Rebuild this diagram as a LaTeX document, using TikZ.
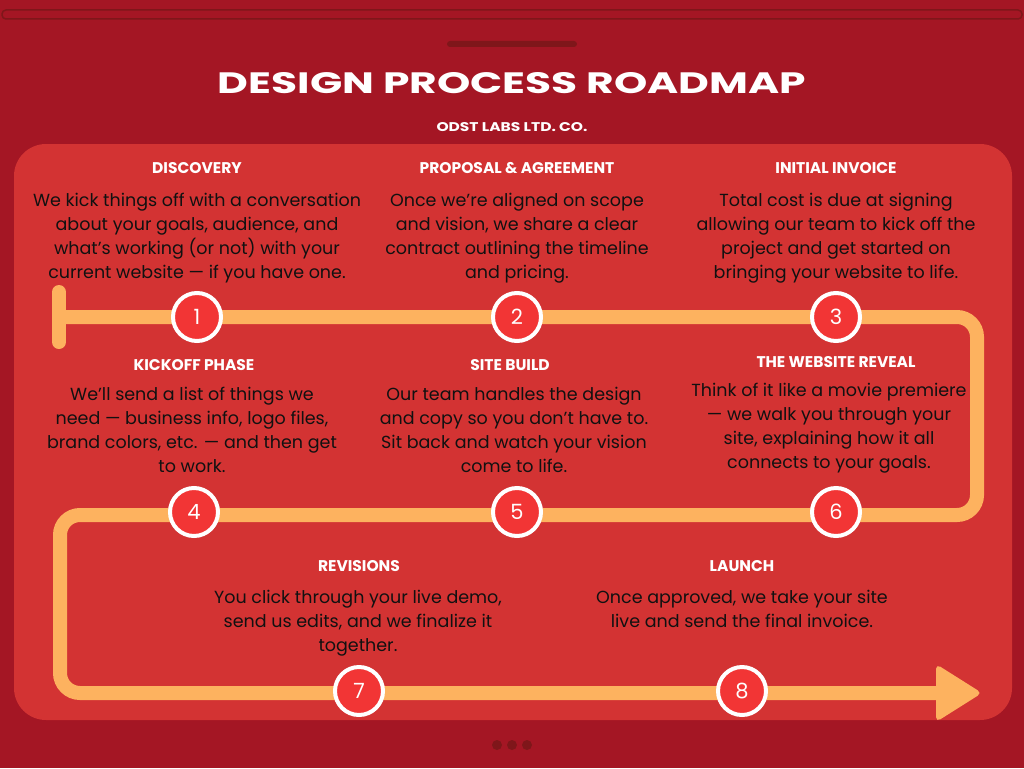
\documentclass[tikz,border=0pt]{standalone}
\usepackage{fontspec}
\usepackage{graphicx}
\setmainfont{Poppins}
\newfontfamily\headfont{Poppins}
\definecolor{bgred}{HTML}{A41624}
\definecolor{panelred}{HTML}{D33333}
\definecolor{roadorange}{HTML}{FDB25F}
\definecolor{dotred}{HTML}{F23535}
\definecolor{darkred}{HTML}{7F161A}
\definecolor{bodyink}{HTML}{111111}
\tikzset{
  road/.style={draw=roadorange, line width=14pt},
  stepdot/.style={circle, fill=dotred, draw=white, line width=4pt, minimum size=48pt, inner sep=0pt, text=white, font=\headfont\fontsize{21}{21}\selectfont},
  headtext/.style={text=white, font=\headfont\bfseries\fontsize{15.5}{15.5}\selectfont, anchor=center},
  bodytext/.style={text=bodyink, align=center, font=\fontsize{17.5}{24}\selectfont, anchor=north},
}
\begin{document}
\begin{tikzpicture}[x=1pt, y=-1pt]
\useasboundingbox (0,0) rectangle (1024,768);
\fill[bgred] (0,0) rectangle (1024,768);
% top bar and pill
\draw[darkred, line width=1.5pt, rounded corners=4pt] (2,10) rectangle (1022,19);
\fill[darkred, rounded corners=3pt] (447,41) rectangle (577,47);
% title
\node[text=white, inner sep=0pt] (title) at (512,83) {\resizebox{588pt}{21pt}{\headfont\bfseries DESIGN PROCESS ROADMAP}};
\node[text=white, inner sep=0pt] (subtitle) at (512,127) {\resizebox{151pt}{9pt}{\headfont\bfseries ODST LABS LTD. CO.}};
% panel
\fill[panelred, rounded corners=32pt] (14,144) rectangle (1012,720);
% road coordinates
\coordinate (start) at (59,317);
\coordinate (c1) at (977,317);
\coordinate (c2) at (977,515);
\coordinate (c3) at (60,515);
\coordinate (c4) at (60,693);
\coordinate (finish) at (940,693);
\draw[road, line cap=round] (59,292) -- (59,342);
\draw[road, rounded corners=20pt] (start) -- (c1) -- (c2) -- (c3) -- (c4) -- (finish);
\fill[roadorange, rounded corners=5pt] (936,664) -- (982,693) -- (936,722) -- cycle;
% step circles
\node[stepdot] (s1) at (197,317) {1};
\node[stepdot] (s2) at (517,317) {2};
\node[stepdot] (s3) at (836,317) {3};
\node[stepdot] (s4) at (194,512) {4};
\node[stepdot] (s5) at (517,512) {5};
\node[stepdot] (s6) at (836,512) {6};
\node[stepdot] (s7) at (359,691) {7};
\node[stepdot] (s8) at (742,691) {8};
% headings
\node[headtext] (h1) at (197,168) {DISCOVERY};
\node[headtext] (h2) at (517,168) {PROPOSAL \& AGREEMENT};
\node[headtext] (h3) at (836,168) {INITIAL INVOICE};
\node[headtext] (h4) at (194,365) {KICKOFF PHASE};
\node[headtext] (h5) at (510,365) {SITE BUILD};
\node[headtext] (h6) at (836,362) {THE WEBSITE REVEAL};
\node[headtext] (h7) at (359,566) {REVISIONS};
\node[headtext] (h8) at (742,566) {LAUNCH};
% bodies
\node[bodytext] (b1) at (197,190) {We kick things off with a conversation\\about your goals, audience, and\\what’s working (or not) with your\\current website — if you have one.};
\node[bodytext] (b2) at (517,190) {Once we’re aligned on scope\\and vision, we share a clear\\contract outlining the timeline\\and pricing.};
\node[bodytext] (b3) at (836,190) {Total cost is due at signing\\allowing our team to kick off the\\project and get started on\\bringing your website to life.};
\node[bodytext] (b4) at (192,384) {We’ll send a list of things we\\need — business info, logo files,\\brand colors, etc. — and then get\\to work.};
\node[bodytext] (b5) at (514,384) {Our team handles the design\\and copy so you don’t have to.\\Sit back and watch your vision\\come to life.};
\node[bodytext] (b6) at (829,380) {Think of it like a movie premiere\\— we walk you through your\\site, explaining how it all\\connects to your goals.};
\node[bodytext] (b7) at (358,587) {You click through your live demo,\\send us edits, and we finalize it\\together.};
\node[bodytext] (b8) at (742,587) {Once approved, we take your site\\live and send the final invoice.};
% dots
\fill[darkred] (497,745) circle (5pt) (512,745) circle (5pt) (527,745) circle (5pt);
\end{tikzpicture}
\end{document}
